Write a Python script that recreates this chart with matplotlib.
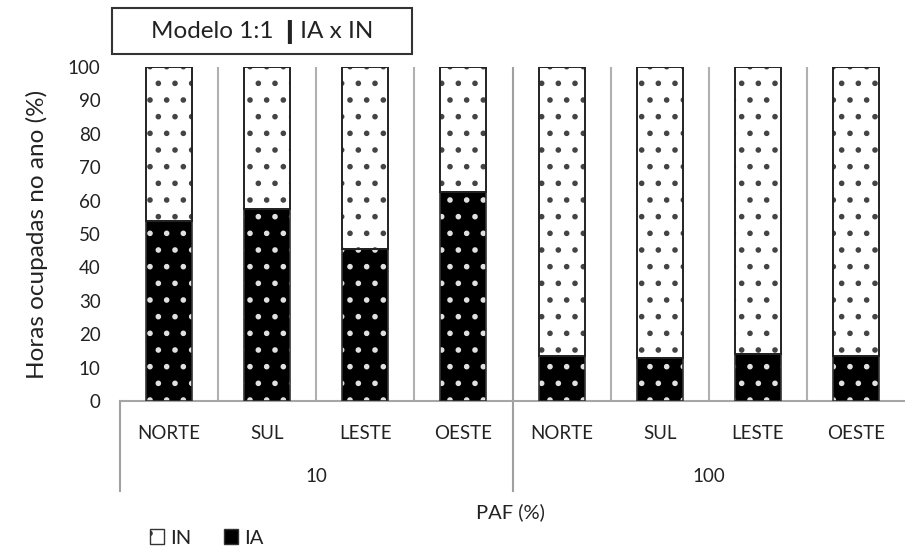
import matplotlib
matplotlib.use('Agg')
import matplotlib.pyplot as plt
import matplotlib.transforms as mtransforms
from matplotlib.patches import Patch, Rectangle

plt.rcParams['font.family'] = ['Lato', 'DejaVu Sans']
plt.rcParams['hatch.linewidth'] = 1.6

orientacoes = ['NORTE', 'SUL', 'LESTE', 'OESTE', 'NORTE', 'SUL', 'LESTE', 'OESTE']
grupos = ['10', '100']
ia = [54, 57.5, 45.5, 62.5, 13.5, 13, 14, 13.5]
in_ = [100 - v for v in ia]

fig = plt.figure(figsize=(9.05, 5.52), dpi=100)
ax = fig.add_axes([120 / 905, 1 - 401 / 552, 785 / 905, 334 / 552])

x = list(range(len(orientacoes)))
w = 0.47
# IA: preto com pontos brancos
ax.bar(x, ia, w, color='black', edgecolor='#e0e0e0', hatch='.', linewidth=0, zorder=3)
# IN: branco com pontos pretos
ax.bar(x, in_, w, bottom=ia, color='white', edgecolor='#444444', hatch='.', linewidth=0, zorder=3)
# contornos
ax.bar(x, ia, w, fill=False, edgecolor='#333333', linewidth=1.2, zorder=4)
ax.bar(x, in_, w, bottom=ia, fill=False, edgecolor='#222222', linewidth=1.4, zorder=4)

ax.set_xlim(-0.5, 7.5)
ax.set_ylim(0, 100)
ax.set_yticks(range(0, 101, 10))
ax.tick_params(axis='y', length=0, labelsize=13.5, pad=14, labelcolor='#222222')
ax.set_xticks([])
for s in ['top', 'right', 'left']:
    ax.spines[s].set_visible(False)
ax.spines['bottom'].set_color('#a6a6a6')
ax.spines['bottom'].set_linewidth(1.5)

# linhas verticais entre categorias
for b in [0.5, 1.5, 2.5, 4.5, 5.5, 6.5]:
    ax.axvline(b, color='#b0b0b0', linewidth=1.5, zorder=1)
ax.axvline(3.5, color='#a0a0a0', linewidth=1.5, zorder=1)

trans = mtransforms.blended_transform_factory(ax.transData, ax.transAxes)
for xb in [-0.5, 3.5]:
    ax.plot([xb, xb], [0, -0.27], color='#a0a0a0', linewidth=1.5,
            transform=trans, clip_on=False)

for xi, lab in zip(x, orientacoes):
    ax.text(xi, -0.096, lab, transform=trans, ha='center', va='center',
            fontsize=13.5, color='#222222')
for gi, g in enumerate(grupos):
    ax.text(gi * 4 + 1.5, -0.225, g, transform=trans, ha='center', va='center',
            fontsize=13.5, color='#222222')

ax.set_ylabel('Horas ocupadas no ano (%)', fontsize=17.5, labelpad=14, color='#222222')
fig.text(510 / 905, 1 - 512 / 552, 'PAF (%)', ha='center', va='center',
         fontsize=14.5, color='#222222')

# caixa do título
fig.patches.append(Rectangle((112 / 905, 1 - 54 / 552), 300 / 905, 46 / 552,
                             transform=fig.transFigure, facecolor='white',
                             edgecolor='#333333', linewidth=1.5))
fig.text(262 / 905, 1 - 32 / 552, 'Modelo 1:1 \u2759IA x IN', ha='center', va='center',
         fontsize=17.5, color='#222222')

handles = [Patch(facecolor='white', edgecolor='#333333', hatch='.', label='IN'),
           Patch(facecolor='black', edgecolor='#333333', label='IA')]
fig.legend(handles=handles, loc='center left', bbox_to_anchor=(140 / 905, 1 - 538 / 552),
           ncol=2, frameon=False, fontsize=14.5, handlelength=0.7, handleheight=0.7,
           handletextpad=0.3, columnspacing=1.6, borderpad=0, labelcolor='#222222')

fig.savefig('out.png', dpi=100)
